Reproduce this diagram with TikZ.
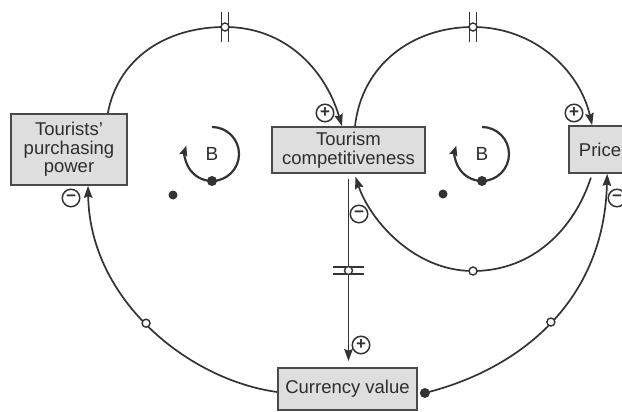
\documentclass[tikz,border=0pt]{standalone}
\usepackage{fontspec}
\setmainfont{Liberation Sans}
\usetikzlibrary{calc,arrows.meta}
\definecolor{cline}{HTML}{333333}
\definecolor{boxfill}{HTML}{DEDEDE}
\definecolor{boxdraw}{HTML}{4A4A4A}
\definecolor{txt}{HTML}{2E2E2E}
\begin{document}
\begin{tikzpicture}[x=1pt,y=-1pt,
  box/.style={draw=boxdraw, fill=boxfill, line width=1.7pt, text=txt,
    font=\fontsize{18.5}{18.5}\selectfont, align=center, inner sep=0pt},
  link/.style={draw=cline, line width=1.7pt},
  arr/.style={link, -{Stealth[length=12pt,width=8.5pt,inset=1.5pt]}},
  sign/.style={circle, draw=cline, line width=1.5pt, minimum size=17.5pt,
    inner sep=0pt, font=\bfseries\fontsize{17}{17}\selectfont, text=cline},
  smallc/.style={draw=cline, line width=1.4pt, fill=white},
  delayv/.pic={\draw[cline, line width=1.5pt] (-3.5,-15) -- (-3.5,15) (3.5,-15) -- (3.5,15);
               \draw[smallc] (0,0) circle (4pt);},
  delayh/.pic={\draw[cline, line width=1.5pt] (-15.5,-3.5) -- (15.5,-3.5) (-15.5,3.5) -- (15.5,3.5);
               \draw[smallc] (0,0) circle (4pt);},
  loopsym/.style={font=\fontsize{19}{19}\selectfont, text=txt}
]
\useasboundingbox (0,0) rectangle (622,412);
\clip (0,0) rectangle (622,412);

% boxes
\node[box, minimum width=116pt, minimum height=71pt] (tpp) at (69,149.5) {Tourists’\\purchasing\\power};
\node[box, minimum width=153pt, minimum height=46pt] (tc) at (348.5,150) {Tourism\\competitiveness};
\node[box, minimum width=62pt, minimum height=47pt] (price) at (600,149.5) {Price};
\node[box, minimum width=139pt, minimum height=42pt] (cv) at (347.5,389) {Currency value};

% via points
\coordinate (d1) at (225,27);
\coordinate (d2) at (473,27);
\coordinate (d3) at (473,271);
\coordinate (src) at ($(cv.east)+(7,4)$);

% upper arcs
\draw[arr] ($(tpp.north east)+(-20,0)$) .. controls +(10,-54) and +(-60,0) .. (d1)
   .. controls +(60,0) and +(-17,-57) .. ($(tc.north)+(-6.5,0)$);
\draw[arr] ($(tc.north)+(6.5,0)$) .. controls +(7,-62) and +(-60,0) .. (d2)
   .. controls +(60,0) and +(-13,-56) .. ($(price.north west)+(24,0)$);

% price -> tourism competitiveness (lower loop)
\draw[arr, shorten <=4pt, shorten >=3pt] ($(price.south west)+(24,0)$) .. controls +(-18,55) and +(60,0) .. (d3)
   .. controls +(-60,0) and +(15,45) .. ($(tc.south)+(6,0)$);

% tourism competitiveness -> currency value
\draw[arr, shorten <=5pt, shorten >=6pt] (tc.south) -- (tc.south |- cv.north)
   coordinate[pos=0.5] (d4);

% currency value -> tourists' purchasing power
\draw[arr] ($(cv.west)+(0,3)$) .. controls +(-88,-12) and +(2,115) .. ($(tpp.south)+(19,0)$)
   coordinate[pos=0.52] (m5);

% currency value -> price
\draw[arr] (src) .. controls +(96,-24) and +(-3,127) .. ($(price.south west)+(39,0)$)
   coordinate[pos=0.5] (m6);
\fill[cline] (src) circle (5pt);

% delay marks and small circles
\pic at (d1) {delayv};
\pic at (d2) {delayv};
\pic at (d4) {delayh};
\draw[smallc] (d3) circle (4pt);
\draw[smallc] (m5) circle (4pt);
\draw[smallc] (m6) circle (4pt);

% polarity signs
\node[sign] (p1) at (325,113) {+};
\node[sign] (p2) at (574,113) {+};
\node[sign] (p3) at (361,345) {+};
\node[sign] (n1) at (71,198) {−};
\node[sign] (n2) at (359,214) {−};
\node[sign] (n3) at (617,198) {−};

% loop symbols
\coordinate (l1) at (212,154);
\coordinate (l2) at (482,154);
\draw[link, line width=2.2pt, -{Stealth[length=10pt,width=8pt,inset=1.5pt]}] ($(l1)+(0,-27)$) arc[start angle=90, end angle=-198, radius=27pt];
\draw[link, line width=2.2pt, -{Stealth[length=10pt,width=8pt,inset=1.5pt]}] ($(l2)+(0,-27)$) arc[start angle=90, end angle=-198, radius=27pt];
\fill[cline] ($(l1)+(0,27)$) circle (5pt);
\fill[cline] ($(l2)+(0,27)$) circle (5pt);
\node[loopsym] (b1) at (l1) {B};
\node[loopsym] (b2) at (l2) {B};
\fill[cline] (173,195) circle (4.5pt);
\fill[cline] (443,194) circle (4.5pt);
\end{tikzpicture}
\end{document}
